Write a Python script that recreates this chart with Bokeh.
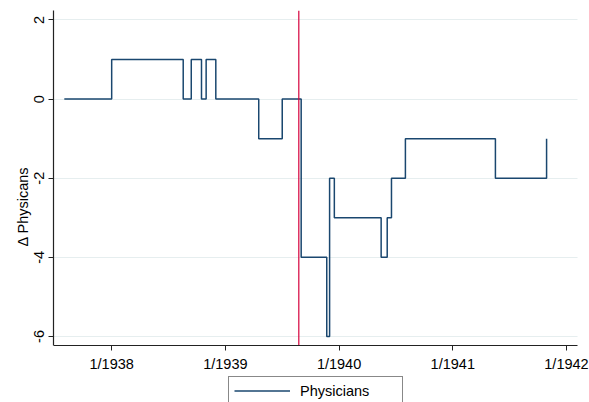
from bokeh.plotting import figure
from bokeh.models import Legend, LegendItem, FixedTicker, Range1d
from bokeh.embed import file_html
from bokeh.resources import INLINE

# months since January 1938
change_months = [-5, 0, 7.55, 8.4, 9.48, 9.97, 10.99, 15.52, 18.0, 20.0,
                 22.7, 23.0, 23.5, 28.44, 29.08, 29.53, 31.0, 40.5, 45.9]
delta_physicians = [0, 1, 0, 1, 0, 1, 0, -1, 0, -4,
                    -6, -2, -3, -4, -3, -2, -1, -2, -1]
event_month = 19.75

x_tick_pos = [0, 12, 24, 36, 48]
x_tick_labels = ["1/1938", "1/1939", "1/1940", "1/1941", "1/1942"]
y_ticks = [2, 0, -2, -4, -6]
y_tick_labels = ["2", "0", "-2", "-4", "-6"]

# plot region limits (axes span these; frame extends a little beyond for labels/legend)
X_LO, X_HI = -6.14, 49.2
Y_LO, Y_HI = -6.23, 2.24
X_FRAME_HI = 50.43
Y_FRAME_LO = -7.67

FONT = "Liberation Sans"
NAVY = "#1a476f"

p = figure(width=589, height=402, output_backend="svg", toolbar_location=None,
           x_range=Range1d(X_LO, X_FRAME_HI), y_range=Range1d(Y_FRAME_LO, Y_HI),
           min_border_left=53, min_border_right=0, min_border_top=10,
           min_border_bottom=0)
p.outline_line_color = None
p.background_fill_color = "white"
p.border_fill_color = "white"

r = p.step(change_months, delta_physicians, mode="after",
           line_color=NAVY, line_width=1.5)

p.segment(x0=[event_month], y0=[Y_LO], x1=[event_month], y1=[Y_HI],
          line_color="#d6003c", line_width=1.2)

# axes
p.xaxis.fixed_location = Y_LO
p.xaxis.bounds = (X_LO, X_HI)
p.xaxis.ticker = FixedTicker(ticks=x_tick_pos)
p.xaxis.major_label_overrides = {k: v for k, v in zip(x_tick_pos, x_tick_labels)}
p.yaxis.ticker = FixedTicker(ticks=y_ticks)
p.yaxis.bounds = (Y_LO, Y_HI)
p.yaxis.major_label_overrides = {k: v for k, v in zip(y_ticks, y_tick_labels)}
p.yaxis.major_label_orientation = "vertical"
p.yaxis.axis_label = "\u0394 Physicans"

for ax in (p.xaxis[0], p.yaxis[0]):
    ax.axis_line_color = "#222222"
    ax.axis_line_width = 1.2
    ax.major_tick_line_color = "#222222"
    ax.major_tick_in = 0
    ax.major_tick_out = 5
    ax.minor_tick_line_color = None
    ax.major_label_text_font = FONT
    ax.major_label_text_font_size = "14.5px"
    ax.major_label_text_color = "black"
    ax.axis_label_text_font = FONT
    ax.axis_label_text_font_size = "14.5px"
    ax.axis_label_text_font_style = "normal"
    ax.axis_label_text_color = "black"

p.xaxis.major_label_standoff = 5
p.yaxis.major_label_standoff = 4
p.yaxis.axis_label_standoff = 1

p.xgrid.grid_line_color = None
p.ygrid.grid_line_color = "#e6eeef"
p.ygrid.grid_line_width = 1.2
try:
    p.ygrid.cross_bounds = (X_LO, X_HI)
except Exception:
    pass

legend = Legend(items=[LegendItem(label="Physicians", renderers=[r])],
                location=(175, -3), orientation="vertical",
                padding=5, margin=0, spacing=0,
                glyph_width=56, glyph_height=17, label_height=17,
                label_width=97, label_standoff=10,
                label_text_font=FONT, label_text_font_size="14.5px",
                label_text_color="black",
                border_line_color="#111111", border_line_width=1.2,
                background_fill_color="white", background_fill_alpha=1.0)
p.add_layout(legend, "center")

open("out.html", "w").write(file_html(p, INLINE))
